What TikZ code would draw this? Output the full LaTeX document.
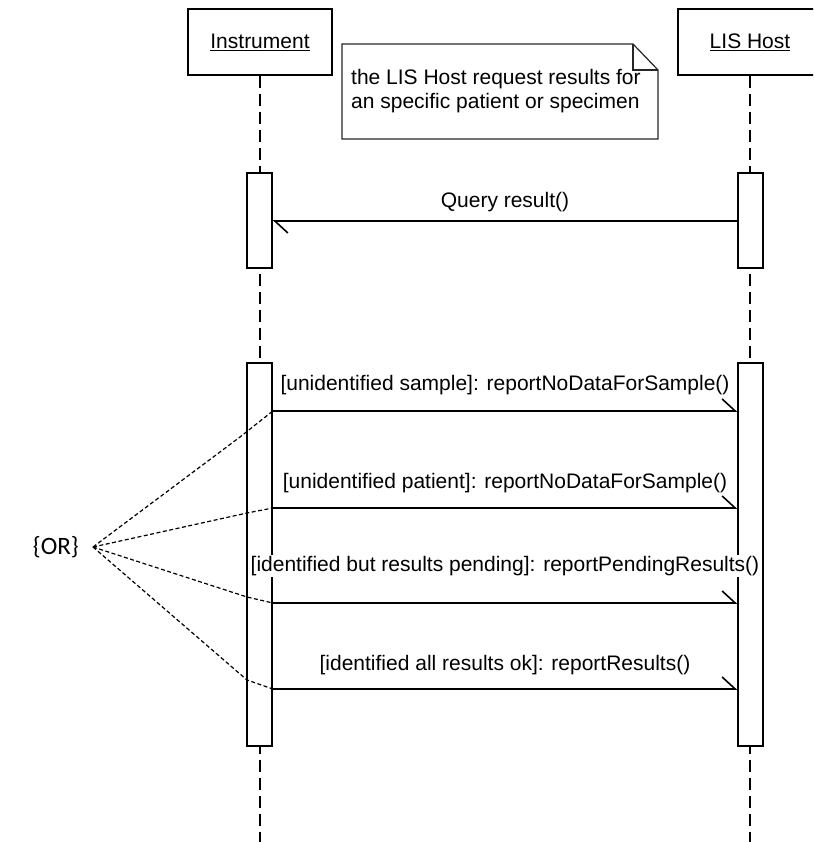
\documentclass[tikz,border=0pt]{standalone}
\usepackage{fontspec}
\setmainfont{Liberation Sans}
\newfontfamily\orfont{Carlito}
\usetikzlibrary{arrows.meta}
\begin{document}
\begin{tikzpicture}[x=1pt,y=-1pt,
  every node/.style={font=\fontsize{21}{24}\selectfont},
  head/.style={draw, line width=1.6pt, fill=white, minimum width=144pt, minimum height=66pt, inner sep=0},
  bar/.style={draw, line width=1.6pt, fill=white, minimum width=25pt, inner sep=0},
  life/.style={line width=1.4pt, dash pattern=on 12pt off 6pt},
  msg/.style={line width=1.6pt, -{Straight Barb[harpoon, length=13pt, width=24pt, line width=1.6pt]}},
  lbl/.style={fill=white, inner sep=1pt},
  notebox/.style={line width=1.2pt, draw=black!85},
  ordash/.style={line width=1.2pt, dash pattern=on 4pt off 2.5pt}]
\useasboundingbox (0,0) rectangle (813,842);
\begin{scope}
\clip (0,0) rectangle (813,842);
% lifeline heads
\node[head] (inst) at (260,42) {\underline{Instrument}};
\node[head] (host) at (750,42) {\underline{LIS Host}};
\coordinate (instEnd) at (260,842);
\coordinate (hostEnd) at (750,842);
\draw[life] (inst.south) -- (instEnd);
\draw[life] (host.south) -- (hostEnd);
% note
\node[anchor=west, align=left, inner sep=0] (note) at (351,91) {the LIS Host request results for\\an specific patient or specimen};
\draw[notebox] (342,44) -- (633,44) -- (658,70) -- (658,139) -- (342,139) -- cycle;
\draw[notebox] (633,44) -- (633,70) -- (658,70);
% activation bars
\node[bar, minimum height=95pt] (ib1) at (259.5,220.5) {};
\node[bar, minimum height=95pt] (hb1) at (750.5,220.5) {};
\node[bar, minimum height=383pt] (ib2) at (259.5,554.5) {};
\node[bar, minimum height=383pt] (hb2) at (750.5,554.5) {};
% messages
\draw[msg] (hb1.west |- 0,221) -- (ib1.east |- 0,221);
\node (lq) at (505,202) {Query result()};
\draw[msg] (ib2.east |- 0,411) -- (hb2.west |- 0,411);
\node[lbl] (l1) at (505,385) {[unidentified sample]: reportNoDataForSample()};
\draw[msg] (ib2.east |- 0,508) -- (hb2.west |- 0,508);
\node[lbl] (l2) at (505,483) {[unidentified patient]: reportNoDataForSample()};
\draw[msg] (ib2.east |- 0,603) -- (hb2.west |- 0,603);
\node[lbl] (l3) at (505,566) {[identified but results pending]: reportPendingResults()};
\draw[msg] (ib2.east |- 0,689) -- (hb2.west |- 0,689);
\node[lbl] (l4) at (505,665) {[identified all results ok]: reportResults()};
% OR constraint
\node[anchor=east, inner sep=0, font=\orfont\fontsize{25}{28}\selectfont] (or) at (79,547) {\{OR\}};
\coordinate (orpt) at (93,547);
\draw[ordash] (orpt) -- (240,437) -- (ib2.east |- 0,411);
\draw[ordash] (orpt) -- (247,513) -- (ib2.east |- 0,508);
\draw[ordash] (orpt) -- (247,597) -- (ib2.east |- 0,603);
\draw[ordash] (orpt) -- (247,680) -- (ib2.east |- 0,689);
\end{scope}
\end{tikzpicture}
\end{document}
